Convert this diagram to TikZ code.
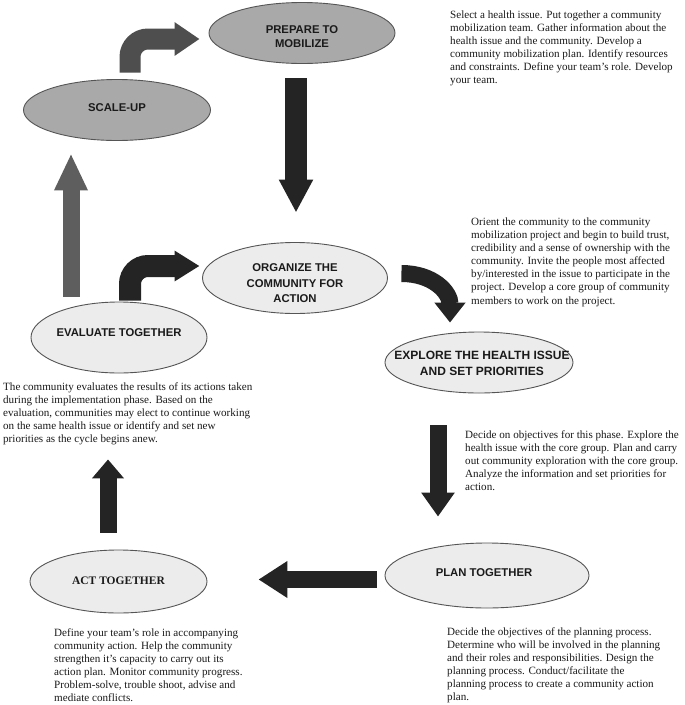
\documentclass[tikz,border=0pt]{standalone}
\usepackage{fontspec}
\setmainfont{Liberation Serif}
\newfontfamily\lblfont{Liberation Sans}
\usetikzlibrary{arrows.meta,shapes.geometric}
\definecolor{darkfill}{HTML}{A9A9A9}
\definecolor{lightfill}{HTML}{ECECEC}
\definecolor{rim}{HTML}{555555}
\definecolor{arrowdark}{HTML}{242424}
\definecolor{arrowmid}{HTML}{4E4E4E}
\definecolor{arrowgray}{HTML}{5E5E5E}
\definecolor{ink}{HTML}{1A1A1A}
\begin{document}
\begin{tikzpicture}[x=1pt,y=-1pt,
  phase/.style={ellipse, draw=rim, line width=0.9pt, inner sep=0pt},
  phasedark/.style={phase, fill=darkfill},
  phaselight/.style={phase, fill=lightfill},
  lbl/.style={font=\lblfont\bfseries\fontsize{11.3}{14}\selectfont, align=center, text=ink, inner sep=0pt},
  desc/.style={font=\fontsize{11.1}{13.1}\selectfont, align=left, anchor=north west, inner sep=0pt, text=ink},
  fatdark/.style={draw=arrowdark, line cap=butt},
]
\useasboundingbox[fill=white] (0,0) rectangle (685,705);

% phases
\node[phasedark, minimum width=186pt, minimum height=61pt] (prep) at (302,33) {};
\node[lbl, font=\lblfont\bfseries\fontsize{11.3}{13.5}\selectfont] (preptxt) at (302,36.5) {PREPARE TO\\MOBILIZE};
\node[phasedark, minimum width=187pt, minimum height=61pt] (scale) at (117,110) {};
\node[lbl] (scaletxt) at (117,107.5) {SCALE-UP};
\node[phaselight, minimum width=185pt, minimum height=71pt] (org) at (295,278) {};
\node[lbl, font=\lblfont\bfseries\fontsize{11.3}{15.5}\selectfont] (orgtxt) at (295,283.5) {ORGANIZE THE\\COMMUNITY FOR\\ACTION};
\node[phaselight, minimum width=176pt, minimum height=71pt] (eval) at (119,337.5) {};
\node[lbl] (evaltxt) at (119,332.5) {EVALUATE TOGETHER};
\node[phaselight, minimum width=188pt, minimum height=61pt] (expl) at (479,362.5) {};
\node[lbl, font=\lblfont\bfseries\fontsize{12}{16.5}\selectfont] (expltxt) at (482,363.5) {EXPLORE THE HEALTH ISSUE\\AND SET PRIORITIES};
\node[phaselight, minimum width=204pt, minimum height=65pt] (plan) at (487,575.5) {};
\node[lbl] (plantxt) at (484,573) {PLAN TOGETHER};
\node[phaselight, minimum width=177pt, minimum height=63pt] (act) at (118.5,581.5) {};
\node[lbl, font=\bfseries\fontsize{11.5}{14}\selectfont] (acttxt) at (118.5,581) {ACT TOGETHER};

% descriptions
\node[desc] (d1) at (450,10.5) {Select a health issue. Put together a community\\
mobilization team. Gather information about the\\
health issue and the community. Develop a\\
community mobilization plan. Identify resources\\
and constraints. Define your team’s role. Develop\\
your team.};
\node[desc] (d2) at (471,217.5) {Orient the community to the community\\
mobilization project and begin to build trust,\\
credibility and a sense of ownership with the\\
community. Invite the people most affected\\
by/interested in the issue to participate in the\\
project. Develop a core group of community\\
members to work on the project.};
\node[desc] (d3) at (3,382) {The community evaluates the results of its actions taken\\
during the implementation phase. Based on the\\
evaluation, communities may elect to continue working\\
on the same health issue or identify and set new\\
priorities as the cycle begins anew.};
\node[desc] (d4) at (465,430.5) {Decide on objectives for this phase. Explore the\\
health issue with the core group. Plan and carry\\
out community exploration with the core group.\\
Analyze the information and set priorities for\\
action.};
\node[desc] (d5) at (54,628) {Define your team’s role in accompanying\\
community action. Help the community\\
strengthen it’s capacity to carry out its\\
action plan. Monitor community progress.\\
Problem-solve, trouble shoot, advise and\\
mediate conflicts.};
\node[desc] (d6) at (447,627) {Decide the objectives of the planning process.\\
Determine who will be involved in the planning\\
and their roles and responsibilities. Design the\\
planning process. Conduct/facilitate the\\
planning process to create a community action\\
plan.};

% connectors
\draw[draw=arrowmid, line cap=butt, line width=21pt, rounded corners=18pt, -{Triangle[width=32pt,length=25pt]}]
  ([xshift=13pt,yshift=6.5pt]scale.north) |- ([xshift=-9pt,yshift=-6pt]prep.west);
\draw[fatdark, line width=22pt, -{Triangle[width=32pt,length=33pt]}]
  ([xshift=-6pt,yshift=-14.5pt]prep.south) -- ([xshift=1pt,yshift=29.5pt]org.north);
\draw[fatdark, line width=17pt, -{Triangle[width=30pt,length=20pt]}]
  ([xshift=13.5pt,yshift=4.5pt]org.east) .. controls +(32,0) and +(0,-30) .. ([xshift=-29pt,yshift=9pt]expl.north);
\draw[fatdark, line width=17pt, -{Triangle[width=32pt,length=24pt]}]
  ([xshift=-41pt,yshift=-32pt]expl.south) -- ([xshift=-49pt,yshift=26pt]plan.north);
\draw[fatdark, line width=17pt, -{Triangle[width=35pt,length=29pt]}]
  ([xshift=-8pt,yshift=-4pt]plan.west) -- ([xshift=51pt,yshift=2pt]act.east);
\draw[fatdark, line width=17pt, -{Triangle[width=31pt,length=19pt]}]
  ([xshift=-10.5pt,yshift=17pt]act.north) -- ([xshift=-11pt,yshift=-86pt]eval.south);
\draw[fatdark, line width=22pt, rounded corners=18pt, -{Triangle[width=29pt,length=25pt]}]
  ([xshift=11pt,yshift=1pt]eval.north) |- ([xshift=-2.5pt,yshift=12pt]org.west);
\draw[draw=arrowgray, line cap=butt, line width=17pt, -{Triangle[width=31pt,length=37pt]}]
  ([xshift=-48pt,yshift=5pt]eval.north) -- ([xshift=-46pt,yshift=-12.5pt]scale.south);
\end{tikzpicture}
\end{document}
